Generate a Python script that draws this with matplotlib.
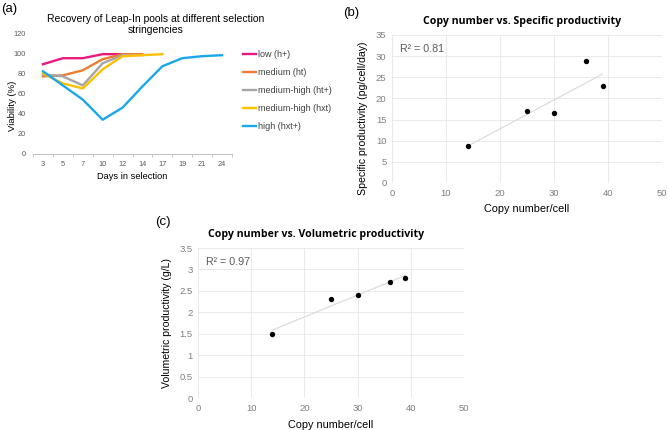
import matplotlib
matplotlib.use("Agg")
import matplotlib.pyplot as plt
import numpy as np

# ---------------- data ----------------
days = ["3", "5", "7", "10", "12", "14", "17", "19", "21", "24"]
low_h = [89, 95, 95, 99, 99]
medium_ht = [77, 78, 83, 94, 99, 99]
medhigh_htp = [79, 77, 68, 90, 98, 98]
medhigh_hxt = [80, 70, 65, 84, 97, 98, 99]
high_hxtp = [82, 68, 54, 34, 46, 67, 87, 95, 97, 98]
series_names = ["low (h+)", "medium (ht)", "medium-high (ht+)", "medium-high (hxt)", "high (hxt+)"]
series_colors = ["#E6197D", "#ED7D31", "#A5A5A5", "#FFC000", "#1AA7EC"]

copy_number = [14, 25, 30, 36, 39]
specific_prod = [8.8, 17.0, 16.5, 28.8, 23.0]
volumetric_prod = [1.5, 2.3, 2.4, 2.7, 2.8]

W, H = 667, 430
fig = plt.figure(figsize=(W / 100, H / 100), dpi=100)
fig.patch.set_facecolor("white")

def ax_rect(x0, y0, x1, y1):
    return [x0 / W, 1 - y1 / H, (x1 - x0) / W, (y1 - y0) / H]

FA = "Liberation Sans"
tick_col = "#595959"

# ---------------- panel (a) ----------------
axa = fig.add_axes(ax_rect(33, 33, 232, 154))
xs = np.arange(len(days))
for vals, name, col in zip([low_h, medium_ht, medhigh_htp, medhigh_hxt, high_hxtp], series_names, series_colors):
    axa.plot(xs[:len(vals)], vals, color=col, lw=1.7, label=name)
axa.set_xlim(-0.5, len(days) - 0.5)
axa.set_ylim(0, 120)
axa.set_yticks(np.arange(0, 121, 20))
axa.set_xticks(xs)
axa.set_xticklabels(days)
axa.set_xticks(np.arange(-0.5, len(days), 1), minor=True)
axa.tick_params(axis="x", which="major", length=0, labelsize=5.3, colors=tick_col, pad=5)
axa.tick_params(axis="x", which="minor", length=2.5, color="#BFBFBF", direction="out")
axa.tick_params(axis="y", length=0, labelsize=5.3, colors=tick_col, pad=5)
for lab in axa.get_xticklabels() + axa.get_yticklabels():
    lab.set_fontfamily(FA)
for s in ["top", "right", "left"]:
    axa.spines[s].set_visible(False)
axa.spines["bottom"].set_color("#BFBFBF")
axa.spines["bottom"].set_linewidth(0.7)
axa.set_xlabel("Days in selection", fontsize=6.7, family=FA, labelpad=3)
axa.set_ylabel("Viability (%)", fontsize=6.8, family=FA)
axa.yaxis.set_label_coords(-0.08, 0.40)
fig.text(156 / W, 1 - 24.5 / H, "Recovery of Leap-In pools at different selection\nstringencies",
         fontsize=7.5, family=FA, linespacing=1.2, ha="center", va="center")
leg = axa.legend(loc="upper left", bbox_to_anchor=(1.035, 0.89), frameon=False,
                 prop={"family": FA, "size": 6.5}, handlelength=1.5, handletextpad=0.25,
                 labelspacing=1.0, borderaxespad=0)
for t in leg.get_texts():
    t.set_color("#404040")
fig.text(1 / W, 1 - 9 / H, "(a)", fontsize=9.5, family=FA, va="center", ha="left")

# ---------------- scatter helper ----------------
def scatter_panel(rect, x, y, ylim, ystep, title, title_x, ylabel, ylab_xy,
                  r2text, label, label_xy):
    ax = fig.add_axes(ax_rect(*rect))
    ax.set_xlim(0, 50)
    ax.set_ylim(0, ylim)
    ax.set_xticks(np.arange(0, 51, 10))
    yt = np.arange(0, ylim + 1e-9, ystep)
    ax.set_yticks(yt)
    ax.set_yticklabels([f"{v:g}" for v in yt])
    ax.grid(True, color="#E6E6E6", lw=0.6)
    ax.set_axisbelow(True)
    for s in ax.spines.values():
        s.set_visible(False)
    ax.tick_params(length=0, labelsize=6.8, colors="#7F7F7F", pad=4)
    for lab in ax.get_xticklabels() + ax.get_yticklabels():
        lab.set_fontfamily(FA)
    coef = np.polyfit(x, y, 1)
    xf = np.array([min(x), max(x)])
    ax.plot(xf, np.polyval(coef, xf), color="#D9D9D9", lw=0.8, zorder=2)
    ax.scatter(x, y, s=15, color="black", zorder=3, linewidths=0)
    ax.set_xlabel("Copy number/cell", fontsize=7.8, family=FA, labelpad=5)
    ax.set_ylabel(ylabel, fontsize=7.6, family=FA)
    ax.yaxis.set_label_coords(*ylab_xy)
    ax.set_title(title, fontsize=7.6, family="Open Sans", weight="bold", pad=8, x=title_x)
    ax.text(0.03, 0.905, r2text, transform=ax.transAxes, fontsize=7.7, family=FA,
            color="#595959", va="center", ha="left")
    fig.text(label_xy[0] / W, 1 - label_xy[1] / H, label, fontsize=9.5, family=FA,
             va="center", ha="left")
    return ax

scatter_panel((392, 35, 662, 183), copy_number, specific_prod, 35, 5,
              "Copy number vs. Specific productivity", 0.48,
              "Specific productivity (pg/cell/day)", (-0.089, 0.44), "R² = 0.81", "(b)", (343, 13))
scatter_panel((198, 248, 464, 398), copy_number, volumetric_prod, 3.5, 0.5,
              "Copy number vs. Volumetric productivity", 0.445,
              "Volumetric productivity (g/L)", (-0.098, 0.5), "R² = 0.97", "(c)", (155, 222))

fig.savefig("out.png", dpi=100, facecolor="white")
